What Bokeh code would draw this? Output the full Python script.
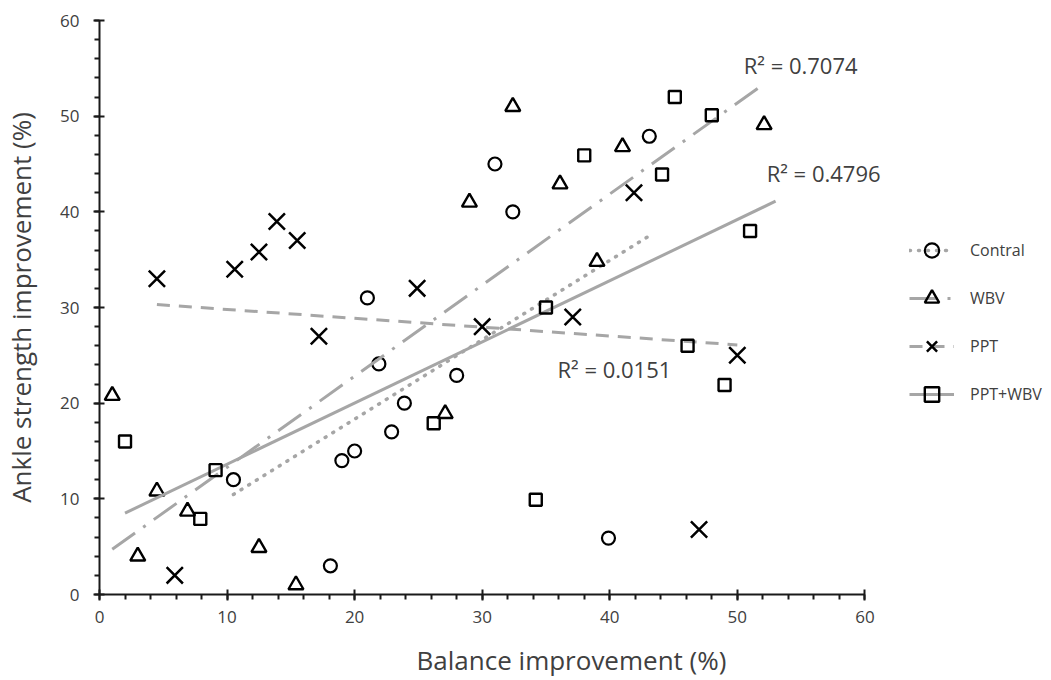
import numpy as np
from bokeh.plotting import figure
from bokeh.models import Legend, LegendItem, Range1d, FixedTicker, Label
from bokeh.embed import file_html
from bokeh.resources import INLINE

# ---------------- data ----------------
contral_x = [10.5, 18.1, 19.0, 20.0, 21.0, 21.9, 22.9, 23.9, 28.0, 31.0, 32.4, 39.9, 43.1]
contral_y = [12.0, 3.0, 14.0, 15.0, 31.0, 24.1, 17.0, 20.0, 22.9, 45.0, 40.0, 5.9, 47.9]

wbv_x = [1.0, 3.0, 4.5, 6.9, 12.5, 15.4, 27.1, 29.0, 32.4, 36.1, 39.0, 41.0, 52.1]
wbv_y = [20.8, 4.0, 10.8, 8.7, 4.9, 1.0, 18.9, 41.0, 51.0, 42.9, 34.8, 46.8, 49.1]

ppt_x = [4.5, 5.9, 10.6, 12.5, 13.9, 15.5, 17.2, 24.9, 30.0, 37.1, 41.9, 47.0, 50.0]
ppt_y = [33.0, 2.0, 34.0, 35.8, 39.0, 37.0, 27.0, 32.0, 28.0, 29.0, 42.0, 6.8, 25.0]

pptwbv_x = [2.0, 7.9, 9.1, 26.2, 34.2, 35.0, 38.0, 44.1, 45.1, 46.1, 48.0, 49.0, 51.0]
pptwbv_y = [16.0, 7.9, 13.0, 17.9, 9.9, 30.0, 45.9, 43.9, 52.0, 26.0, 50.1, 21.9, 38.0]

series_names = ["Contral", "WBV", "PPT", "PPT+WBV"]
x_ticks = [0, 10, 20, 30, 40, 50, 60]
y_ticks = [0, 10, 20, 30, 40, 50, 60]
axis_max = 60

r2_texts = ["R\u00b2 = 0.7074", "R\u00b2 = 0.4796", "R\u00b2 = 0.0151"]
r2_x = [50.5, 52.3, 35.9]
r2_y = [55.3, 44.1, 23.6]

# trendline forward forecast (Excel option) per series
forward = [0, 0, 0, 2]

FONT = "Open Sans"
TXT = "#404040"
GRAY = "#A6A6A6"

W, H = 1048, 680
LEFT, TOP, RIGHT, BOTTOM = 97, 20, 5, 86
AXIS_PX = 767  # pixel length of the 0..60 axis
x_end = axis_max * (W - LEFT - RIGHT) / AXIS_PX

p = figure(width=W, height=H, x_range=Range1d(0, x_end), y_range=Range1d(0, axis_max),
           output_backend="svg", toolbar_location=None,
           min_border_left=LEFT, min_border_right=RIGHT, min_border_top=TOP,
           min_border_bottom=BOTTOM)
p.outline_line_color = None
p.xgrid.visible = False
p.ygrid.visible = False
p.background_fill_color = "white"
p.border_fill_color = "white"

for ax, ticks in ((p.xaxis[0], x_ticks), (p.yaxis[0], y_ticks)):
    ax.ticker = FixedTicker(ticks=ticks, minor_ticks=list(range(0, axis_max + 1, 2)))
    ax.bounds = (0, axis_max)
    ax.axis_line_color = "#1a1a1a"
    ax.axis_line_width = 2
    ax.major_tick_line_color = "#1a1a1a"
    ax.major_tick_line_width = 2
    ax.minor_tick_line_color = "#1a1a1a"
    ax.minor_tick_line_width = 2
    ax.major_tick_in = 5
    ax.major_tick_out = 6
    ax.minor_tick_in = 0
    ax.minor_tick_out = 5
    ax.major_label_text_font = FONT
    ax.major_label_text_font_size = "17px"
    ax.major_label_text_color = TXT
    ax.axis_label_text_font = FONT
    ax.axis_label_text_font_size = "26px"
    ax.axis_label_text_font_style = "normal"
    ax.axis_label_text_color = TXT

p.xaxis.axis_label = "Balance improvement (%)"
p.yaxis.axis_label = "Ankle strength improvement (%)"
p.xaxis.major_label_standoff = 10
p.yaxis.major_label_standoff = 14
p.xaxis.axis_label_standoff = 16
p.yaxis.axis_label_standoff = 18


def trend(x, y, fwd):
    x = np.asarray(x, float)
    y = np.asarray(y, float)
    m, b = np.polyfit(x, y, 1)
    xs = np.array([x.min(), x.max() + fwd])
    return xs, m * xs + b


data = [(contral_x, contral_y), (wbv_x, wbv_y), (ppt_x, ppt_y), (pptwbv_x, pptwbv_y)]
dashes = ["1 8", "28 10 3 10", "13 9", "solid"]
caps = ["round", "butt", "butt", "butt"]
widths = [3.5, 3, 3, 3]
markers = ["circle", "triangle", "x", "square"]
sizes = [13, 15, 23, 12]
mlw = [2.2, 2.4, 2.5, 2.4]

items = []
for i, (xs, ys) in enumerate(data):
    tx, ty = trend(xs, ys, forward[i])
    lr = p.line(tx, ty, line_color=GRAY, line_width=widths[i], line_dash=dashes[i],
                line_cap=caps[i])
    sr = p.scatter(xs, ys, marker=markers[i], size=sizes[i], fill_alpha=0,
                   line_color="black", line_width=mlw[i])
    items.append(LegendItem(label=series_names[i], renderers=[lr, sr]))

for t, lx, ly in zip(r2_texts, r2_x, r2_y):
    p.add_layout(Label(x=lx, y=ly, text=t, text_font=FONT, text_font_size="22px",
                       text_color=TXT, text_baseline="middle", text_align="left"))

legend = Legend(items=items, location=(810, 182), padding=0, margin=0,
                glyph_width=45, glyph_height=36, label_height=36, spacing=12,
                label_standoff=16, label_text_font=FONT, label_text_font_size="16px",
                label_text_color=TXT, border_line_alpha=0, background_fill_alpha=0)
p.add_layout(legend, "center")

open("out.html", "w").write(file_html(p, INLINE))
